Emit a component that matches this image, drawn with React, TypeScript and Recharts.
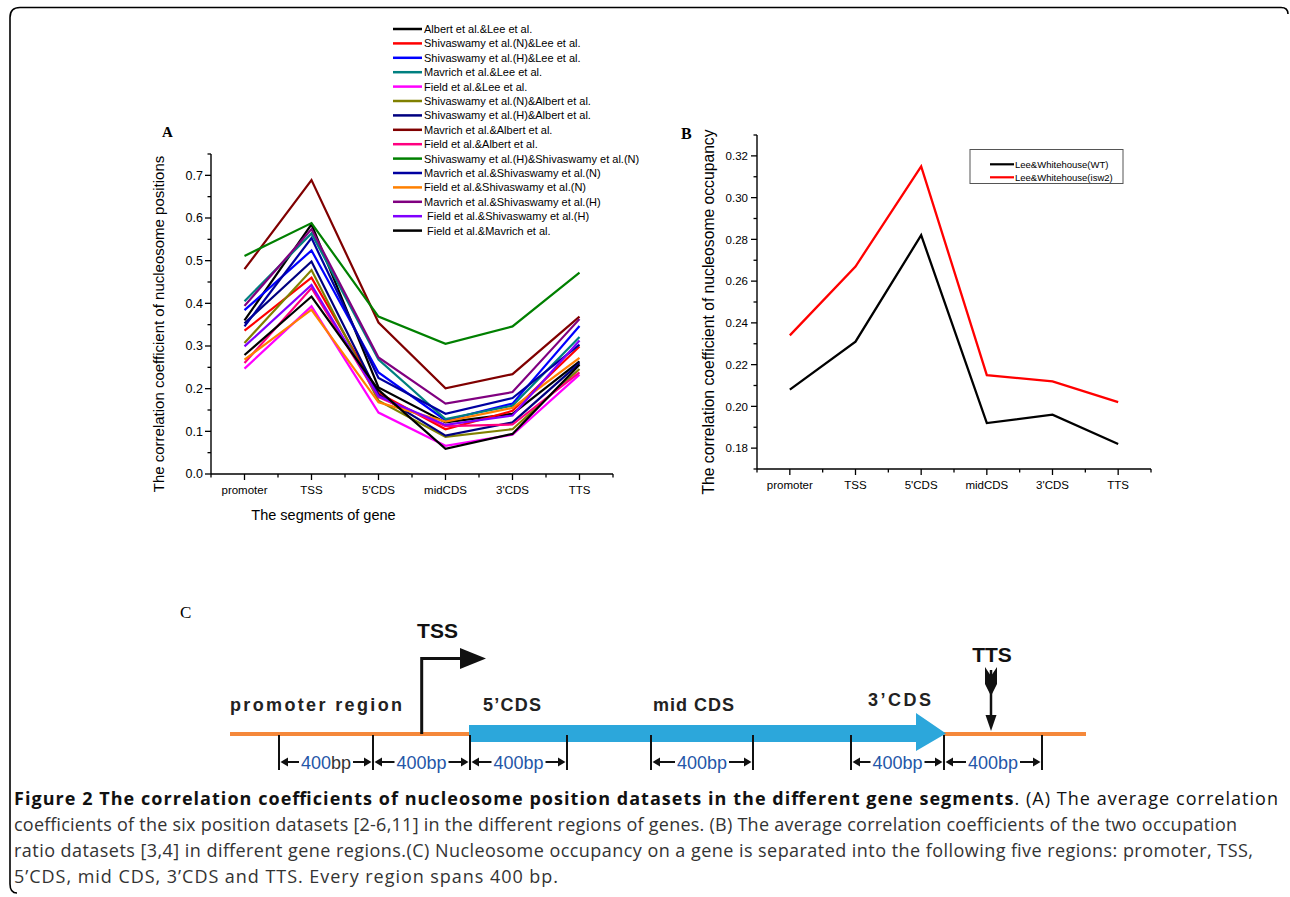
import React from 'react';
import { LineChart, Line, XAxis, YAxis } from 'recharts';

// ---------- shared categories / ticks ----------
const SEGMENTS = ['promoter', 'TSS', "5'CDS", 'midCDS', "3'CDS", 'TTS'];
const X_TICKS = [-0.5, 0, 0.5, 1, 1.5, 2, 2.5, 3, 3.5, 4, 4.5, 5, 5.5];
const A_Y_TICKS = [0, 0.05, 0.1, 0.15, 0.2, 0.25, 0.3, 0.35, 0.4, 0.45, 0.5, 0.55, 0.6, 0.65, 0.7, 0.75];
const B_Y_TICKS = [0.17, 0.18, 0.19, 0.2, 0.21, 0.22, 0.23, 0.24, 0.25, 0.26, 0.27, 0.28, 0.29, 0.3, 0.31, 0.32, 0.33];

// ---------- panel A series ----------
const albertLee = [0.36, 0.585, 0.203, 0.121, 0.141, 0.264];
const shivNLee = [0.336, 0.46, 0.19, 0.105, 0.148, 0.299];
const shivHLee = [0.384, 0.524, 0.238, 0.126, 0.165, 0.347];
const mavrichLee = [0.405, 0.564, 0.268, 0.129, 0.16, 0.321];
const fieldLee = [0.247, 0.393, 0.144, 0.066, 0.092, 0.233];
const shivNAlbert = [0.307, 0.478, 0.172, 0.087, 0.105, 0.246];
const shivHAlbert = [0.353, 0.498, 0.186, 0.09, 0.121, 0.26];
const mavrichAlbert = [0.48, 0.689, 0.355, 0.201, 0.234, 0.369];
const fieldAlbert = [0.26, 0.436, 0.18, 0.112, 0.116, 0.238];
const shivHShivN = [0.511, 0.588, 0.369, 0.305, 0.346, 0.472];
const mavrichShivN = [0.346, 0.553, 0.225, 0.141, 0.178, 0.303];
const fieldShivN = [0.268, 0.385, 0.168, 0.123, 0.155, 0.272];
const mavrichShivH = [0.394, 0.574, 0.273, 0.165, 0.192, 0.363];
const fieldShivH = [0.299, 0.443, 0.182, 0.115, 0.137, 0.313];
const fieldMavrich = [0.279, 0.416, 0.197, 0.059, 0.094, 0.256];

const A_NAMES = [
  'Albert et al.&Lee et al.',
  'Shivaswamy et al.(N)&Lee et al.',
  'Shivaswamy et al.(H)&Lee et al.',
  'Mavrich et al.&Lee et al.',
  'Field et al.&Lee et al.',
  'Shivaswamy et al.(N)&Albert et al.',
  'Shivaswamy et al.(H)&Albert et al.',
  'Mavrich et al.&Albert et al.',
  'Field et al.&Albert et al.',
  'Shivaswamy et al.(H)&Shivaswamy et al.(N)',
  'Mavrich et al.&Shivaswamy et al.(N)',
  'Field et al.&Shivaswamy et al.(N)',
  'Mavrich et al.&Shivaswamy et al.(H)',
  ' Field et al.&Shivaswamy et al.(H)',
  ' Field et al.&Mavrich et al.',
];
const A_COLORS = [
  '#000000', '#FF0000', '#0000FF', '#008080', '#FF00FF',
  '#808000', '#000080', '#800000', '#FF0080', '#008000',
  '#0000A0', '#FF8000', '#800080', '#8000FF', '#000000',
];
const A_VALUES = [
  albertLee, shivNLee, shivHLee, mavrichLee, fieldLee,
  shivNAlbert, shivHAlbert, mavrichAlbert, fieldAlbert, shivHShivN,
  mavrichShivN, fieldShivN, mavrichShivH, fieldShivH, fieldMavrich,
];

// ---------- panel B series ----------
const wt = [0.208, 0.231, 0.282, 0.192, 0.196, 0.182];
const isw2 = [0.234, 0.267, 0.315, 0.215, 0.212, 0.202];
const B_NAMES = ['Lee&Whitehouse(WT)', 'Lee&Whitehouse(isw2)'];
const B_COLORS = ['#000000', '#FF0000'];
const B_VALUES = [wt, isw2];

// ---------- panel C schematic layout ----------
const C_TICKS = [279, 373, 470, 567, 651, 753, 851, 944, 1042];
const C_SPANS = [[279, 373], [373, 470], [470, 567], [651, 753], [851, 944], [944, 1042]];

const dataA = SEGMENTS.map((seg, i) => {
  const row: any = { x: i, seg };
  A_VALUES.forEach((arr, k) => (row['s' + k] = arr[i]));
  return row;
});
const dataB = SEGMENTS.map((seg, i) => {
  const row: any = { x: i, seg };
  B_VALUES.forEach((arr, k) => (row['b' + k] = arr[i]));
  return row;
});

const SANS = '"Liberation Sans", Arial, sans-serif';
const SERIF = '"Liberation Serif", "Times New Roman", serif';
const CAP = '"Open Sans", "Noto Sans", sans-serif';
const BLUE_TXT = '#2456A8';

const makeXTick = (fs: number) => (props: any) => {
  const { x, y, payload } = props;
  const v = payload.value;
  const major = Number.isInteger(v);
  return (
    <g>
      <line x1={x} x2={x} y1={y} y2={y + (major ? 6 : 3.5)} stroke="#000" strokeWidth={1.3} />
      {major && (
        <text x={x} y={y + 20} textAnchor="middle" fontSize={fs} fontFamily={SANS} fill="#000">
          {SEGMENTS[v]}
        </text>
      )}
    </g>
  );
};

const YTickA = (props: any) => {
  const { x, y, payload } = props;
  const v = payload.value;
  const major = Math.round(v * 100) % 10 === 0;
  return (
    <g>
      <line x1={x} x2={x - (major ? 6 : 3.5)} y1={y} y2={y} stroke="#000" strokeWidth={1.3} />
      {major && (
        <text x={x - 8} y={y + 4.3} textAnchor="end" fontSize={12.5} fontFamily={SANS} fill="#000">
          {v.toFixed(1)}
        </text>
      )}
    </g>
  );
};

const YTickB = (props: any) => {
  const { x, y, payload } = props;
  const v = payload.value;
  const major = Math.round(v * 100) % 2 === 0;
  return (
    <g>
      <line x1={x} x2={x - (major ? 6 : 3.5)} y1={y} y2={y} stroke="#000" strokeWidth={1.3} />
      {major && (
        <text x={x - 9} y={y + 4.2} textAnchor="end" fontSize={11.5} fontFamily={SANS} fill="#000">
          {v.toFixed(2)}
        </text>
      )}
    </g>
  );
};

const XTickA = makeXTick(11.5);
const XTickB = makeXTick(11.5);

const axisLine = { stroke: '#000', strokeWidth: 1.4 };

function PanelC() {
  const yLine = 734;
  const yArrow = 762;
  return (
    <g>
      <text x={180} y={618} fontFamily={SERIF} fontSize={17} fill="#000">C</text>
      {/* orange lines */}
      <line x1={230} x2={470} y1={yLine} y2={yLine} stroke="#F5883A" strokeWidth={4} />
      <line x1={944} x2={1086} y1={yLine} y2={yLine} stroke="#F5883A" strokeWidth={4} />
      {/* blue gene arrow */}
      <polygon points="469,725 916,725 916,713 946,733.5 916,751 916,742 469,742" fill="#2CA7DB" />
      {/* TSS arrow */}
      <polyline points={`421.7,${yLine} 421.7,658.5 463,658.5`} fill="none" stroke="#111" strokeWidth={3} />
      <polygon points="460,648 486,658.5 460,669" fill="#111" />
      <text x={437.5} y={638} textAnchor="middle" fontFamily={SANS} fontWeight="bold" fontSize={21} fill="#111">TSS</text>
      {/* TTS arrow */}
      <line x1={991} x2={991} y1={670} y2={722} stroke="#111" strokeWidth={2.5} />
      <polygon points="985,667 991,676 997,667 997,684 991,696 985,684" fill="#111" />
      <polygon points="985.5,715 996.5,715 991,731" fill="#111" />
      <text x={992} y={662} textAnchor="middle" fontFamily={SANS} fontWeight="bold" fontSize={21} fill="#111">TTS</text>
      {/* region labels */}
      <text x={230} y={711} textLength={172} lengthAdjust="spacing" fontFamily={SANS} fontWeight="bold" fontSize={18} fill="#222">promoter region</text>
      <text x={483} y={711} textLength={58} lengthAdjust="spacing" fontFamily={SANS} fontWeight="bold" fontSize={18} fill="#222">5’CDS</text>
      <text x={653} y={711} textLength={81} lengthAdjust="spacing" fontFamily={SANS} fontWeight="bold" fontSize={18} fill="#222">mid CDS</text>
      <text x={868} y={706} textLength={63} lengthAdjust="spacing" fontFamily={SANS} fontWeight="bold" fontSize={18} fill="#222">3’CDS</text>
      {/* boundary ticks */}
      {C_TICKS.map((t) => (
        <line key={t} x1={t} x2={t} y1={735} y2={770} stroke="#111" strokeWidth={2} />
      ))}
      {/* 400bp spans */}
      {C_SPANS.map(([a, b], i) => {
        const mid = (a + b) / 2;
        const half = 25;
        return (
          <g key={i}>
            <line x1={a + 3} x2={mid - half - 2} y1={yArrow} y2={yArrow} stroke="#111" strokeWidth={2} />
            <polygon points={`${a + 1.5},${yArrow} ${a + 9},${yArrow - 4.5} ${a + 9},${yArrow + 4.5}`} fill="#111" />
            <line x1={mid + half + 2} x2={b - 3} y1={yArrow} y2={yArrow} stroke="#111" strokeWidth={2} />
            <polygon points={`${b - 1.5},${yArrow} ${b - 9},${yArrow - 4.5} ${b - 9},${yArrow + 4.5}`} fill="#111" />
            <text x={mid} y={769} textAnchor="middle" fontFamily={SANS} fontSize={18}>
              <tspan fill={BLUE_TXT}>400</tspan>
              <tspan fill={i === 0 ? '#333' : BLUE_TXT}>bp</tspan>
            </text>
          </g>
        );
      })}
    </g>
  );
}

export default function App() {
  return (
    <div style={{ position: 'absolute', left: 0, top: 0, width: 1290, height: 897, background: '#fff', overflow: 'hidden' }}>
      {/* background overlay: border, labels, legends, schematic, caption */}
      <svg width={1290} height={897} style={{ position: 'absolute', left: 0, top: 0 }}>
        <path d="M 1288 14 Q 1288 7.5 1281 7.5 L 20 7.5 Q 10 7.5 10 17.5 L 10 884 Q 10 893 17 893" fill="none" stroke="#000" strokeWidth={1.6} />
        <text x={162} y={137} fontFamily={SERIF} fontWeight="bold" fontSize={15} fill="#000">A</text>
        <text x={681} y={139} fontFamily={SERIF} fontWeight="bold" fontSize={16} fill="#000">B</text>
        {/* axis titles */}
        <text transform="translate(164,324) rotate(-90)" textAnchor="middle" fontFamily={SANS} fontSize={15} fill="#000">
          The correlation coefficient of nucleosome positions
        </text>
        <text x={323.5} y={520} textAnchor="middle" fontFamily={SANS} fontSize={14.5} fill="#000">The segments of gene</text>
        <text transform="translate(714,312) rotate(-90)" textAnchor="middle" fontFamily={SANS} fontSize={15.7} fill="#000">
          The correlation coefficient of nucleosome occupancy
        </text>
        {/* legend A */}
        {A_NAMES.map((n, i) => {
          const y = 29 + i * 14.4;
          return (
            <g key={i}>
              <line x1={393} x2={422} y1={y} y2={y} stroke={A_COLORS[i]} strokeWidth={2.5} />
              <text x={424} y={y + 4} fontFamily={SANS} fontSize={11} fill="#000" style={{ whiteSpace: 'pre' }}>{n}</text>
            </g>
          );
        })}
        {/* legend B */}
        <rect x={970} y={149.5} width={153} height={34} fill="#fff" stroke="#555" strokeWidth={1} />
        {B_NAMES.map((n, i) => {
          const y = 164.3 + i * 13;
          return (
            <g key={i}>
              <line x1={990} x2={1014} y1={y} y2={y} stroke={B_COLORS[i]} strokeWidth={2.2} />
              <text x={1015} y={y + 3.4} fontFamily={SANS} fontSize={9.5} fill="#000">{n}</text>
            </g>
          );
        })}
        <PanelC />
        {/* caption */}
        <text x={14} y={805} textLength={1264} lengthAdjust="spacing" fontFamily={CAP} fontSize={18} fill="#111">
          <tspan fontWeight="bold">Figure 2 The correlation coefficients of nucleosome position datasets in the different gene segments</tspan>
          <tspan>. (A) The average correlation</tspan>
        </text>
        <text x={14} y={831} textLength={1223} lengthAdjust="spacing" fontFamily={CAP} fontSize={18} fill="#333">
          coefficients of the six position datasets [2-6,11] in the different regions of genes. (B) The average correlation coefficients of the two occupation
        </text>
        <text x={14} y={857} textLength={1239} lengthAdjust="spacing" fontFamily={CAP} fontSize={18} fill="#333">
          ratio datasets [3,4] in different gene regions.(C) Nucleosome occupancy on a gene is separated into the following five regions: promoter, TSS,
        </text>
        <text x={14} y={883} textLength={544} lengthAdjust="spacing" fontFamily={CAP} fontSize={18} fill="#333">
          5’CDS, mid CDS, 3’CDS and TTS. Every region spans 400 bp.
        </text>
      </svg>

      {/* Panel A */}
      <div style={{ position: 'absolute', left: 130, top: 10 }}>
        <LineChart width={500} height={520} data={dataA} margin={{ top: 144, right: 17, bottom: 0, left: 0 }}>
          <XAxis
            dataKey="x"
            type="number"
            domain={[-0.5, 5.5]}
            ticks={X_TICKS}
            interval={0}
            allowDataOverflow
            tick={XTickA}
            tickLine={false}
            tickSize={0}
            tickMargin={0}
            axisLine={axisLine}
            height={56}
          />
          <YAxis
            type="number"
            domain={[0, 0.75]}
            ticks={A_Y_TICKS}
            interval={0}
            allowDataOverflow
            tick={YTickA}
            tickLine={false}
            tickSize={0}
            tickMargin={0}
            axisLine={axisLine}
            width={81}
          />
          {A_VALUES.map((_, k) => (
            <Line
              key={k}
              type="linear"
              dataKey={'s' + k}
              stroke={A_COLORS[k]}
              strokeWidth={2.2}
              dot={false}
              activeDot={false}
              isAnimationActive={false}
            />
          ))}
        </LineChart>
      </div>

      {/* Panel B */}
      <div style={{ position: 'absolute', left: 680, top: 120 }}>
        <LineChart width={490} height={405} data={dataB} margin={{ top: 15, right: 19, bottom: 0, left: 0 }}>
          <XAxis
            dataKey="x"
            type="number"
            domain={[-0.5, 5.5]}
            ticks={X_TICKS}
            interval={0}
            allowDataOverflow
            tick={XTickB}
            tickLine={false}
            tickSize={0}
            tickMargin={0}
            axisLine={axisLine}
            height={56}
          />
          <YAxis
            type="number"
            domain={[0.17, 0.33]}
            ticks={B_Y_TICKS}
            interval={0}
            allowDataOverflow
            tick={YTickB}
            tickLine={false}
            tickSize={0}
            tickMargin={0}
            axisLine={axisLine}
            width={77}
          />
          {B_VALUES.map((_, k) => (
            <Line
              key={k}
              type="linear"
              dataKey={'b' + k}
              stroke={B_COLORS[k]}
              strokeWidth={2.3}
              dot={false}
              activeDot={false}
              isAnimationActive={false}
            />
          ))}
        </LineChart>
      </div>
    </div>
  );
}
